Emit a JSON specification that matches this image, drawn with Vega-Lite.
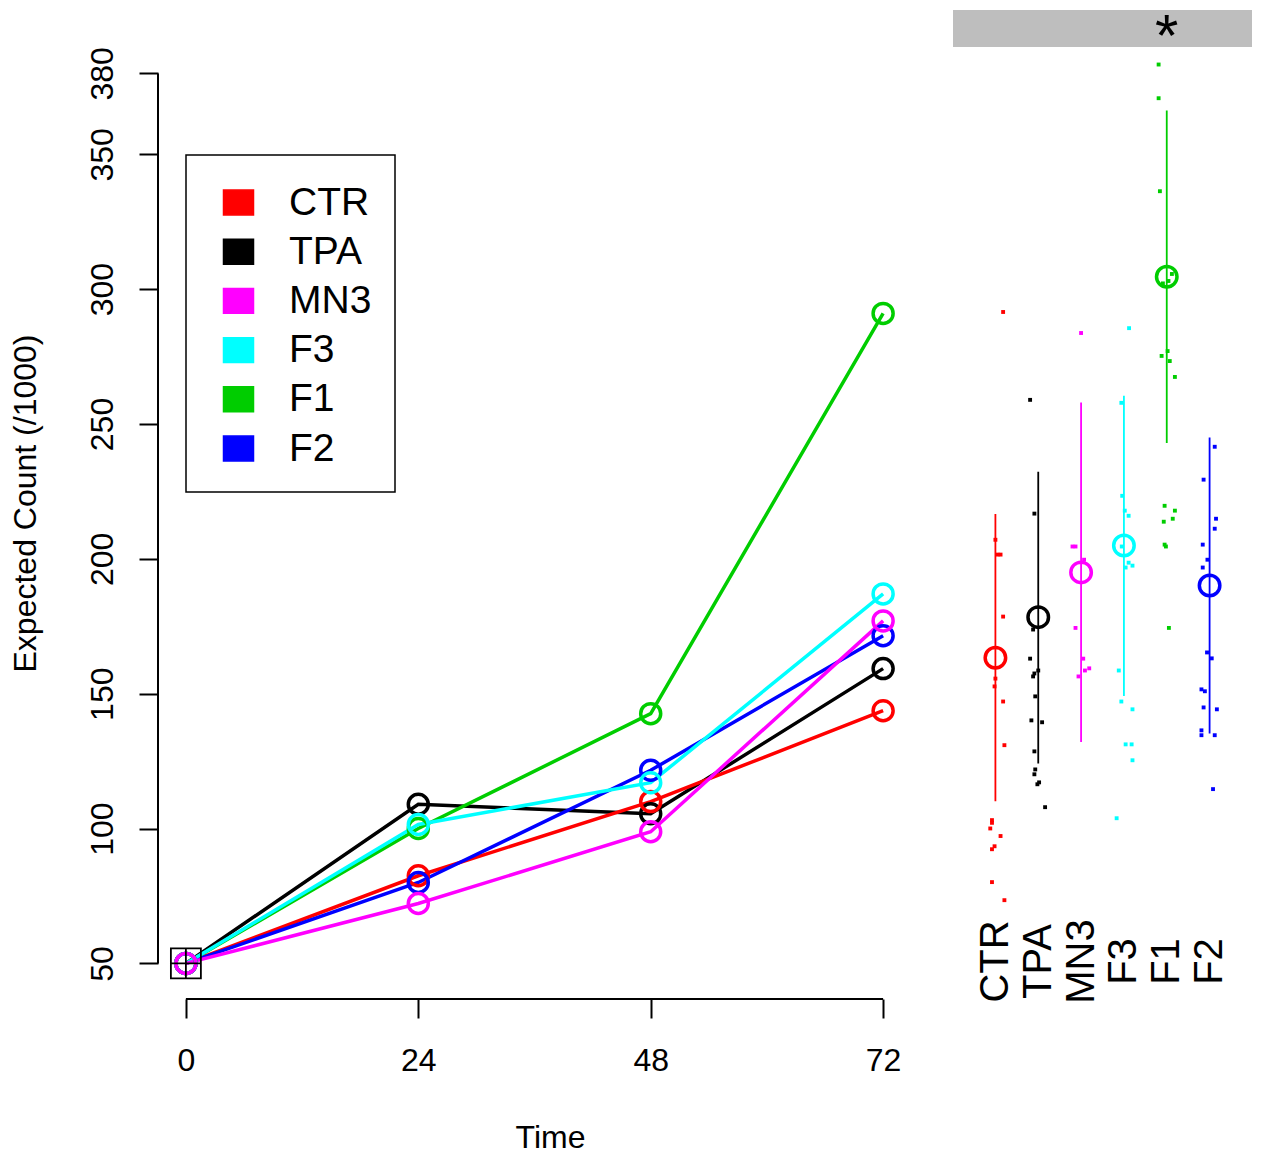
{
  "$schema": "https://vega.github.io/schema/vega-lite/v6.json",
  "padding": {"left": 9, "top": 7, "right": 5, "bottom": 5},
  "background": "white",
  "config": {
    "view": {"stroke": null},
    "font": "Liberation Sans",
    "text": {"font": "Liberation Sans"}
  },
  "datasets": {
    "series": [
      {"group": "TPA", "time": 0, "count": 50}, {"group": "TPA", "time": 24, "count": 109}, {"group": "TPA", "time": 48, "count": 105.5}, {"group": "TPA", "time": 72, "count": 159.3},
      {"group": "CTR", "time": 0, "count": 50}, {"group": "CTR", "time": 24, "count": 82.5}, {"group": "CTR", "time": 48, "count": 110}, {"group": "CTR", "time": 72, "count": 143.7},
      {"group": "F1", "time": 0, "count": 50}, {"group": "F1", "time": 24, "count": 100}, {"group": "F1", "time": 48, "count": 142.6}, {"group": "F1", "time": 72, "count": 291},
      {"group": "F2", "time": 0, "count": 50}, {"group": "F2", "time": 24, "count": 80}, {"group": "F2", "time": 48, "count": 121.6}, {"group": "F2", "time": 72, "count": 171.5},
      {"group": "F3", "time": 0, "count": 50}, {"group": "F3", "time": 24, "count": 101.5}, {"group": "F3", "time": 48, "count": 117}, {"group": "F3", "time": 72, "count": 187},
      {"group": "MN3", "time": 0, "count": 50}, {"group": "MN3", "time": 24, "count": 72.2}, {"group": "MN3", "time": 48, "count": 98.8}, {"group": "MN3", "time": 72, "count": 177}
    ],
    "summary": [
      {"group": "CTR", "mean": 163.3, "lo": 110.1, "hi": 216.7},
      {"group": "TPA", "mean": 178.4, "lo": 124.1, "hi": 232.3},
      {"group": "MN3", "mean": 195, "lo": 132.1, "hi": 258},
      {"group": "F3", "mean": 205, "lo": 149.1, "hi": 260.5},
      {"group": "F1", "mean": 304.7, "lo": 243, "hi": 366.3},
      {"group": "F2", "mean": 190.1, "lo": 135.2, "hi": 245}
    ],
    "dots": [
      {"group": "CTR", "count": 291.6, "jitter": 0.18}, {"group": "CTR", "count": 207.1, "jitter": 0}, {"group": "CTR", "count": 201.6, "jitter": 0.05}, {"group": "CTR", "count": 201.6, "jitter": 0.12},
      {"group": "CTR", "count": 178.6, "jitter": 0.18}, {"group": "CTR", "count": 155.6, "jitter": 0}, {"group": "CTR", "count": 152.7, "jitter": -0.02}, {"group": "CTR", "count": 147.1, "jitter": 0.18},
      {"group": "CTR", "count": 130.9, "jitter": 0.21}, {"group": "CTR", "count": 103.1, "jitter": -0.08}, {"group": "CTR", "count": 102.1, "jitter": -0.08}, {"group": "CTR", "count": 100, "jitter": -0.12},
      {"group": "CTR", "count": 97.2, "jitter": 0.12}, {"group": "CTR", "count": 93.4, "jitter": -0.02}, {"group": "CTR", "count": 92.3, "jitter": -0.08}, {"group": "CTR", "count": 80.1, "jitter": -0.08},
      {"group": "CTR", "count": 73.4, "jitter": 0.21},
      {"group": "TPA", "count": 259, "jitter": -0.19}, {"group": "TPA", "count": 216.8, "jitter": -0.09}, {"group": "TPA", "count": 173.8, "jitter": -0.12}, {"group": "TPA", "count": 163, "jitter": -0.19},
      {"group": "TPA", "count": 158.6, "jitter": 0}, {"group": "TPA", "count": 157.5, "jitter": -0.09}, {"group": "TPA", "count": 156.4, "jitter": -0.12}, {"group": "TPA", "count": 149, "jitter": -0.07},
      {"group": "TPA", "count": 140.1, "jitter": -0.16}, {"group": "TPA", "count": 139.4, "jitter": 0.09}, {"group": "TPA", "count": 128.6, "jitter": -0.09}, {"group": "TPA", "count": 121.9, "jitter": -0.07},
      {"group": "TPA", "count": 120.1, "jitter": -0.09}, {"group": "TPA", "count": 117.1, "jitter": 0.02}, {"group": "TPA", "count": 116.4, "jitter": -0.02}, {"group": "TPA", "count": 107.9, "jitter": 0.16},
      {"group": "MN3", "count": 283.8, "jitter": 0}, {"group": "MN3", "count": 204.6, "jitter": -0.2}, {"group": "MN3", "count": 204.6, "jitter": -0.13}, {"group": "MN3", "count": 199.7, "jitter": 0.07},
      {"group": "MN3", "count": 174.4, "jitter": -0.13}, {"group": "MN3", "count": 163, "jitter": 0.05}, {"group": "MN3", "count": 159.4, "jitter": 0.19}, {"group": "MN3", "count": 158.6, "jitter": 0.09},
      {"group": "MN3", "count": 156.4, "jitter": -0.06},
      {"group": "F3", "count": 285.6, "jitter": 0.12}, {"group": "F3", "count": 257.9, "jitter": -0.06}, {"group": "F3", "count": 223.4, "jitter": -0.04}, {"group": "F3", "count": 217.9, "jitter": 0.02},
      {"group": "F3", "count": 216, "jitter": 0.11}, {"group": "F3", "count": 204.6, "jitter": -0.05}, {"group": "F3", "count": 198.6, "jitter": 0.11}, {"group": "F3", "count": 197.5, "jitter": 0.2},
      {"group": "F3", "count": 196.8, "jitter": 0.04}, {"group": "F3", "count": 158.6, "jitter": -0.12}, {"group": "F3", "count": 147.1, "jitter": -0.06}, {"group": "F3", "count": 144.2, "jitter": 0.2},
      {"group": "F3", "count": 131.2, "jitter": 0.04}, {"group": "F3", "count": 131.2, "jitter": 0.18}, {"group": "F3", "count": 125.3, "jitter": 0.2}, {"group": "F3", "count": 103.8, "jitter": -0.17},
      {"group": "F1", "count": 383.4, "jitter": -0.19}, {"group": "F1", "count": 370.9, "jitter": -0.19}, {"group": "F1", "count": 336.4, "jitter": -0.16}, {"group": "F1", "count": 305.7, "jitter": 0.12},
      {"group": "F1", "count": 303.1, "jitter": 0.04}, {"group": "F1", "count": 302.2, "jitter": -0.09}, {"group": "F1", "count": 277.1, "jitter": 0.02}, {"group": "F1", "count": 275.3, "jitter": -0.12},
      {"group": "F1", "count": 273.4, "jitter": 0.07}, {"group": "F1", "count": 267.5, "jitter": 0.19}, {"group": "F1", "count": 219.7, "jitter": -0.05}, {"group": "F1", "count": 217.9, "jitter": 0.19},
      {"group": "F1", "count": 214.9, "jitter": 0.14}, {"group": "F1", "count": 213.8, "jitter": -0.07}, {"group": "F1", "count": 205.3, "jitter": -0.05}, {"group": "F1", "count": 204.6, "jitter": -0.02},
      {"group": "F1", "count": 174.4, "jitter": 0.05},
      {"group": "F2", "count": 241.6, "jitter": 0.12}, {"group": "F2", "count": 229.4, "jitter": -0.14}, {"group": "F2", "count": 214.9, "jitter": 0.15}, {"group": "F2", "count": 211.2, "jitter": 0.12},
      {"group": "F2", "count": 205.3, "jitter": -0.16}, {"group": "F2", "count": 199.7, "jitter": -0.05}, {"group": "F2", "count": 196.8, "jitter": -0.16}, {"group": "F2", "count": 165.3, "jitter": -0.06},
      {"group": "F2", "count": 163.1, "jitter": 0.05}, {"group": "F2", "count": 151.6, "jitter": -0.19}, {"group": "F2", "count": 150.9, "jitter": -0.11}, {"group": "F2", "count": 144.9, "jitter": -0.14},
      {"group": "F2", "count": 144.2, "jitter": 0.17}, {"group": "F2", "count": 136.4, "jitter": -0.19}, {"group": "F2", "count": 134.6, "jitter": -0.19}, {"group": "F2", "count": 134.6, "jitter": 0.12},
      {"group": "F2", "count": 114.6, "jitter": 0.08}
    ]
  },
  "resolve": {"legend": {"color": "independent"}},
  "spacing": 42,
  "hconcat": [
    {
      "width": 753,
      "height": 989,
      "layer": [
        {
          "data": {"values": [{}]},
          "mark": {"type": "rule", "color": "black", "strokeWidth": 2},
          "encoding": {
            "x": {"datum": -2.88, "type": "quantitative"},
            "y": {"datum": 50, "type": "quantitative"},
            "y2": {"datum": 380}
          }
        },
        {
          "data": {"values": [{}]},
          "mark": {"type": "rule", "color": "black", "strokeWidth": 2},
          "encoding": {
            "x": {"datum": 0, "type": "quantitative"},
            "x2": {"datum": 72},
            "y": {"datum": 36.8, "type": "quantitative"}
          }
        },
        {
          "data": {"name": "series"},
          "mark": {"type": "line", "strokeWidth": 3.5},
          "encoding": {
            "x": {
              "field": "time", "type": "quantitative",
              "scale": {"domain": [-2.88, 74.88], "nice": false, "zero": false},
              "axis": {
                "values": [0, 24, 48, 72], "domain": false, "grid": false,
                "tickSize": 19, "tickWidth": 2, "tickColor": "black",
                "labelAngle": 0, "labelAlign": "center", "labelBaseline": "alphabetic", "labelPadding": 52,
                "labelFontSize": 32, "labelColor": "black", "labelFont": "Liberation Sans", "labelFlush": false,
                "title": "Time", "titleX": 392, "titleY": 148, "titleAlign": "center", "titleBaseline": "alphabetic",
                "titleFontSize": 32, "titleFontWeight": "normal", "titleColor": "black", "titleFont": "Liberation Sans"
              }
            },
            "y": {
              "field": "count", "type": "quantitative",
              "scale": {"domain": [36.8, 403.5], "nice": false, "zero": false},
              "axis": {
                "values": [50, 100, 150, 200, 250, 300, 350, 380], "domain": false, "grid": false,
                "tickSize": 19, "tickWidth": 2, "tickColor": "black",
                "labelAngle": 270, "labelAlign": "center", "labelBaseline": "alphabetic", "labelPadding": 27,
                "labelFontSize": 32, "labelColor": "black", "labelFont": "Liberation Sans", "labelOverlap": false, "labelFlush": false,
                "title": "Expected Count (/1000)", "titleAngle": 270, "titleAlign": "center", "titleBaseline": "alphabetic",
                "titleX": -123, "titleY": 493, "titleFontSize": 32, "titleFontWeight": "normal", "titleColor": "black", "titleFont": "Liberation Sans"
              }
            },
            "color": {
              "field": "group", "type": "nominal",
              "scale": {"domain": ["CTR", "TPA", "MN3", "F3", "F1", "F2"], "range": ["#FF0000", "#000000", "#FF00FF", "#00FFFF", "#00CD00", "#0000FF"]},
              "legend": {
                "title": " ", "titleFontSize": 4, "titlePadding": 1, "orient": "none", "legendX": 28, "legendY": 145, "direction": "vertical",
                "padding": 23, "strokeColor": "black",
                "symbolType": "M-1,-0.83H1V0.83H-1Z", "symbolSize": 900, "symbolStrokeColor": "black", "symbolStrokeWidth": 1.5, "symbolOffset": 10,
                "labelFontSize": 39, "labelFont": "Liberation Sans", "labelColor": "black", "labelOffset": 31, "rowPadding": 9.2,
                "encode": {
                  "symbols": {"update": {"fill": {"scale": "color", "field": "value"}, "fillOpacity": {"value": 1}, "opacity": {"value": 1}, "stroke": {"value": "black"}, "strokeWidth": {"value": 1.5}, "strokeOpacity": {"value": 1}}},
                  "legend": {"update": {"strokeWidth": {"value": 1.5}}}
                }
              }
            }
          }
        },
        {
          "data": {"name": "series"},
          "mark": {"type": "point", "filled": false, "size": 400, "strokeWidth": 3.5, "opacity": 1},
          "encoding": {
            "x": {"field": "time", "type": "quantitative"},
            "y": {"field": "count", "type": "quantitative"},
            "color": {"field": "group", "type": "nominal"}
          }
        },
        {
          "data": {"values": [{"time": 0, "count": 50}]},
          "mark": {"type": "point", "shape": "M-1,-1H1V1H-1Z M-1,0H1 M0,-1V1", "filled": false, "size": 900, "stroke": "black", "strokeWidth": 1.8, "opacity": 1},
          "encoding": {
            "x": {"field": "time", "type": "quantitative"},
            "y": {"field": "count", "type": "quantitative"}
          }
        }
      ]
    },
    {
      "vconcat": [
        {
          "width": 299,
          "height": 37,
          "view": {"fill": "#BEBEBE", "stroke": null},
          "data": {"values": [{"group": "F1", "mark": "*"}]},
          "mark": {"type": "text", "fontSize": 60, "baseline": "alphabetic", "align": "center", "dy": 27, "color": "black", "font": "Liberation Sans"},
          "encoding": {
            "x": {"field": "group", "type": "nominal", "scale": {"type": "point", "domain": ["CTR", "TPA", "MN3", "F3", "F1", "F2"], "padding": 0.99}, "axis": null},
            "text": {"field": "mark"}
          }
        },
        {
          "width": 299,
          "height": 868,
          "encoding": {
            "x": {
              "field": "group", "type": "nominal",
              "scale": {"type": "point", "domain": ["CTR", "TPA", "MN3", "F3", "F1", "F2"], "padding": 0.99},
              "axis": {
                "title": null, "domain": false, "ticks": false, "grid": false,
                "labelAngle": 270, "labelAlign": "center", "labelBaseline": "middle", "labelPadding": 46,
                "labelFontSize": 40, "labelColor": "black", "labelFont": "Liberation Sans"
              }
            },
            "color": {
              "field": "group", "type": "nominal",
              "scale": {"domain": ["CTR", "TPA", "MN3", "F3", "F1", "F2"], "range": ["#FF0000", "#000000", "#FF00FF", "#00FFFF", "#00CD00", "#0000FF"]},
              "legend": null
            }
          },
          "layer": [
            {
              "data": {"name": "dots"},
              "mark": {"type": "point", "shape": "square", "filled": true, "size": 15, "opacity": 1, "strokeWidth": 0},
              "encoding": {
                "y": {"field": "count", "type": "quantitative", "scale": {"domain": [67.9, 389.9], "nice": false, "zero": false}, "axis": null},
                "xOffset": {"field": "jitter", "type": "quantitative", "scale": {"domain": [-1, 1], "range": [-42.84, 42.84]}}
              }
            },
            {
              "data": {"name": "summary"},
              "mark": {"type": "rule", "strokeWidth": 1.8},
              "encoding": {
                "y": {"field": "lo", "type": "quantitative", "scale": {"domain": [67.9, 389.9], "nice": false, "zero": false}, "axis": null},
                "y2": {"field": "hi"}
              }
            },
            {
              "data": {"name": "summary"},
              "mark": {"type": "point", "filled": false, "size": 420, "strokeWidth": 3.5, "opacity": 1},
              "encoding": {
                "y": {"field": "mean", "type": "quantitative", "scale": {"domain": [67.9, 389.9], "nice": false, "zero": false}, "axis": null}
              }
            }
          ]
        }
      ],
      "spacing": 0,
      "bounds": "flush"
    }
  ]
}
